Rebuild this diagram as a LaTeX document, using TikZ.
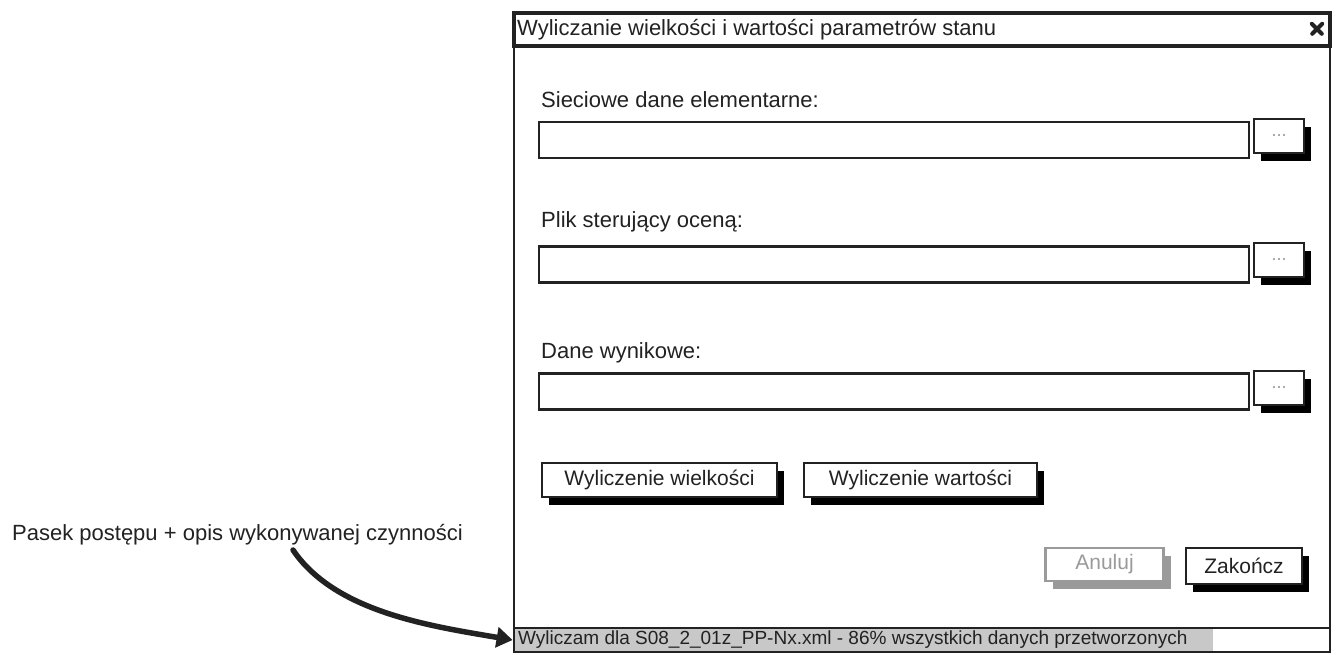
\documentclass[tikz,border=0pt]{standalone}
\usepackage{fontspec}
\setmainfont{Liberation Sans}
\usetikzlibrary{shadows,arrows.meta}
\definecolor{ink}{HTML}{222222}
\definecolor{dimmed}{HTML}{9A9A9A}
\definecolor{barfill}{HTML}{C8C8C8}
\tikzset{
  frame/.style={draw=ink, line width=2.8pt},
  txt/.style={text=ink, inner sep=0pt, anchor=west, font=\fontsize{22}{24}\selectfont},
  field/.style={frame, fill=white, inner sep=0pt, minimum width=710pt, minimum height=36pt},
  pushbtn/.style={frame, fill=white, inner sep=0pt, text=ink,
    font=\fontsize{21}{24}\selectfont,
    drop shadow={shadow xshift=7pt, shadow yshift=-8pt, fill=black, opacity=1}},
  greybtn/.style={pushbtn, draw=dimmed, text=dimmed,
    drop shadow={shadow xshift=7pt, shadow yshift=-8pt, fill=dimmed, opacity=1}},
  dotsbtn/.style={pushbtn, minimum width=50pt, minimum height=34pt,
    font=\fontsize{18}{18}\selectfont, text=dimmed},
}
\begin{document}
\begin{tikzpicture}[x=1pt, y=-1pt]
\useasboundingbox (0,0) rectangle (1339,655);

% dialog window with title bar
\draw[frame, fill=white] (514,13) rectangle (1330,652);
\draw[frame, line width=3.2pt] (514,13) rectangle (1330,46);
\node[txt] (title) at (517,29.5) {Wyliczanie wielkości i wartości parametrów stanu};
\node[inner sep=0pt, minimum size=16pt] (close) at (1317,29) {};
\draw[ink, line width=4pt, line cap=round] (close.north west) ++(3,3) -- ++(10,10)
      (close.north east) ++(-3,3) -- ++(-10,10);

% input rows
\node[txt] (lab1) at (541,100) {Sieciowe dane elementarne:};
\node[field] (f1) at (894,140) {};
\node[dotsbtn] (d1) at (1279,136) {...};

\node[txt] (lab2) at (541,222) {Plik sterujący oceną:};
\node[field] (f2) at (894,264.5) {};
\node[dotsbtn] (d2) at (1279,260) {...};

\node[txt] (lab3) at (541,353) {Dane wynikowe:};
\node[field] (f3) at (894,391.5) {};
\node[dotsbtn] (d3) at (1279,388) {...};

% action buttons
\node[pushbtn, minimum width=235pt, minimum height=34pt] (calcsize) at (659.5,480) {Wyliczenie wielkości};
\node[pushbtn, minimum width=233pt, minimum height=34pt] (calcval) at (920.5,480) {Wyliczenie wartości};
\node[greybtn, minimum width=118pt, minimum height=33pt] (cancel) at (1104.5,564.5) {Anuluj};
\node[pushbtn, minimum width=116pt, minimum height=36pt] (finish) at (1244,566) {Zakończ};

% status bar with progress fill
\fill[barfill] (515,628) rectangle (1213,652);
\node[frame, inner sep=0pt, minimum width=816pt, minimum height=24pt] (status) at (922,640) {};
\node[txt, font=\fontsize{19}{20}\selectfont] (stattext) at (518,640)
  {Wyliczam dla S08\_2\_01z\_PP-Nx.xml - 86\% wszystkich danych przetworzonych};

% annotation with curved pointer
\node[txt] (note) at (12,535) {Pasek postępu + opis wykonywanej czynności};
\coordinate (notefoot) at (293,550);
\draw[ink, line width=5.5pt, line cap=round, -{Triangle[length=16pt, width=20pt]}]
  (notefoot) .. controls (335,612) and (430,626) .. (status.west);
\end{tikzpicture}
\end{document}
